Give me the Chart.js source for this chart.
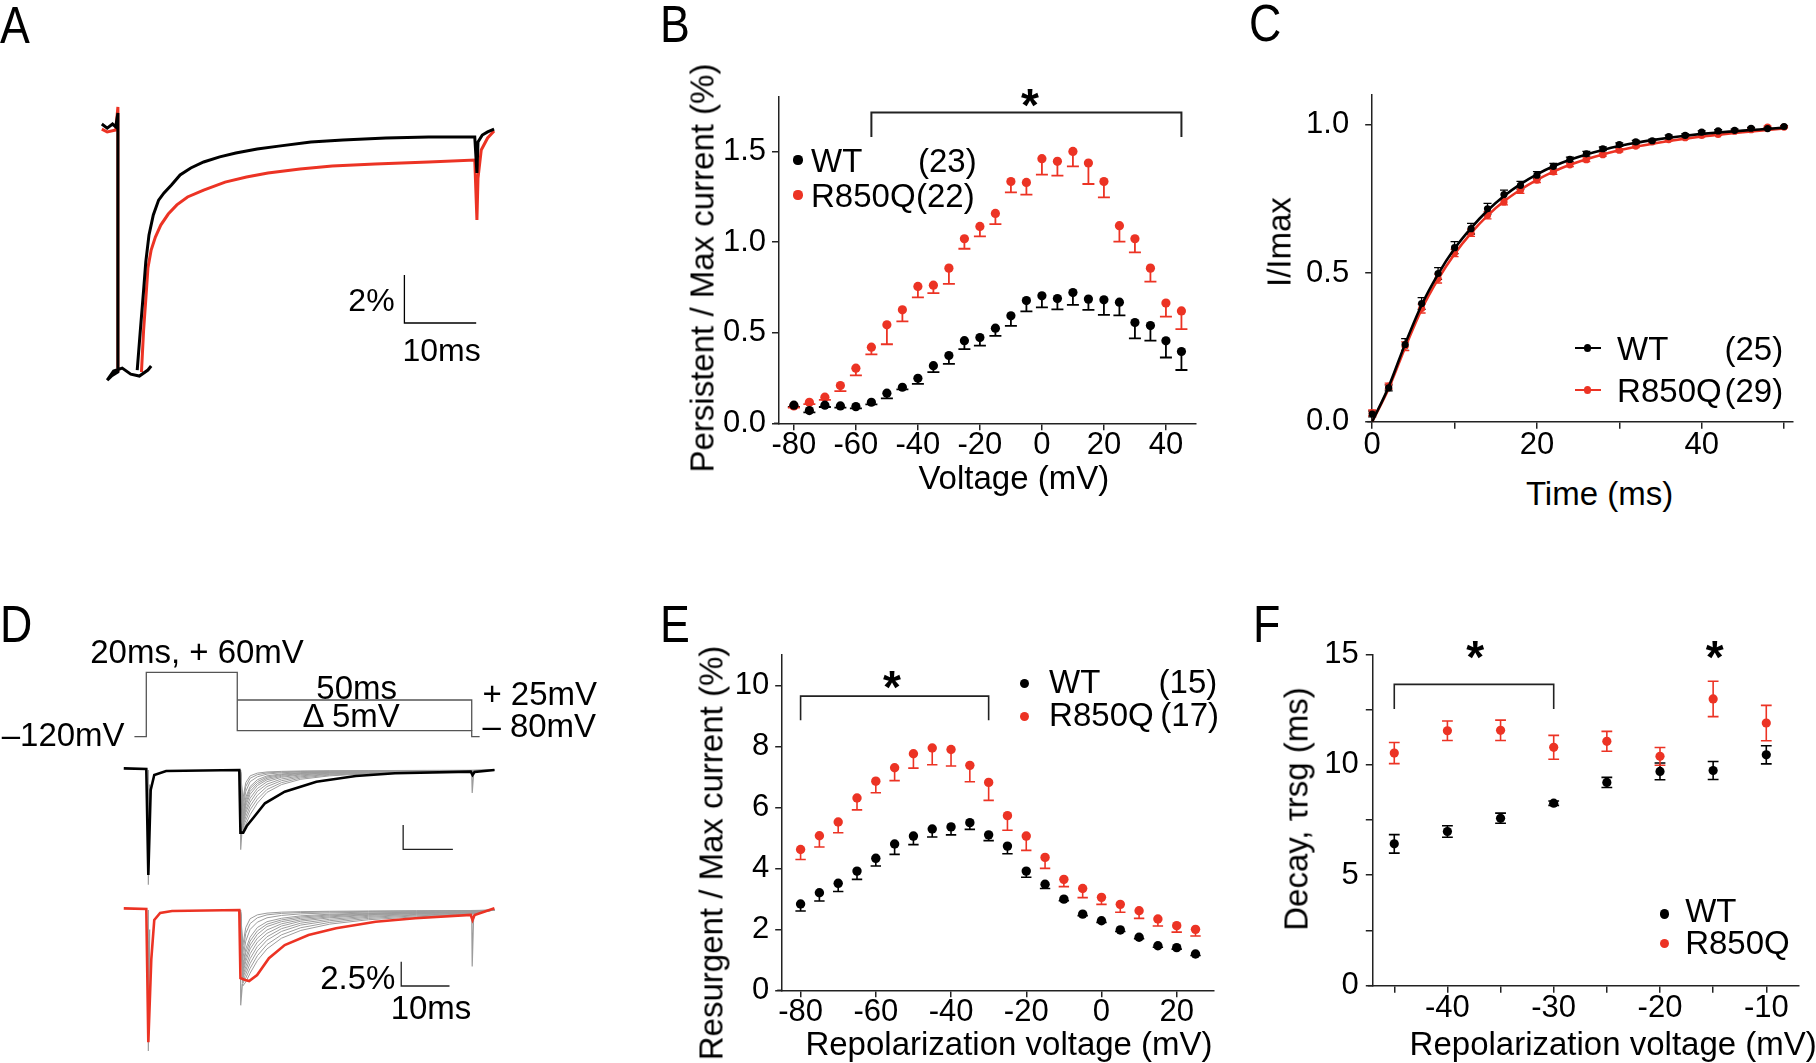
<!DOCTYPE html>
<html><head><meta charset="utf-8">
<script src="https://cdn.jsdelivr.net/npm/chart.js@4.4.0/dist/chart.umd.min.js"></script>
<style>
html,body{margin:0;padding:0;background:#fff;}
#fig{position:relative;width:1816px;height:1063px;overflow:hidden;background:#fff;font-family:'Liberation Sans',Arial,Helvetica,sans-serif;color:#000;}
#fig canvas{position:absolute;}
.t{position:absolute;white-space:nowrap;line-height:1;}
.dot{position:absolute;border-radius:50%;}
.ln{position:absolute;}
</style></head>
<body><div id="fig"></div>
<script>
// ---------------- DATA ----------------
// Panel B: persistent current
const bVolt = [-80,-75,-70,-65,-60,-55,-50,-45,-40,-35,-30,-25,-20,-15,-10,-5,0,5,10,15,20,25,30,35,40,45];
const bWT   = [0.10,0.07,0.10,0.096,0.092,0.116,0.166,0.199,0.248,0.318,0.374,0.456,0.473,0.525,0.593,0.677,0.703,0.688,0.721,0.685,0.681,0.668,0.556,0.539,0.455,0.396];
const bWTerr= [0.01,0.01,0.01,0.01,0.01,0.012,0.028,0.012,0.031,0.036,0.046,0.047,0.044,0.043,0.056,0.06,0.064,0.06,0.068,0.059,0.083,0.073,0.087,0.083,0.092,0.102];
const bR    = [0.096,0.116,0.144,0.208,0.304,0.420,0.543,0.626,0.755,0.762,0.856,1.018,1.086,1.158,1.334,1.329,1.460,1.445,1.500,1.436,1.334,1.090,1.018,0.856,0.663,0.620];
const bRerr = [0.01,0.01,0.015,0.03,0.04,0.04,0.107,0.064,0.06,0.044,0.087,0.055,0.055,0.059,0.06,0.068,0.088,0.079,0.083,0.116,0.088,0.088,0.075,0.075,0.075,0.101];
const bXTicks = [-80,-60,-40,-20,0,20,40];
const bXLabels = ['-80','-60','-40','-20','0','20','40'];
const bYTicks = [0,0.5,1.0,1.5];
const bYLabels = ['0.0','0.5','1.0','1.5'];

// Panel C: recovery from inactivation
const cTime = [0,2,4,6,8,10,12,14,16,18,20,22,24,26,28,30,32,34,36,38,40,42,44,46,48,50];
const cWT   = [0.026,0.114,0.260,0.398,0.499,0.586,0.650,0.717,0.765,0.796,0.830,0.860,0.883,0.902,0.919,0.933,0.942,0.946,0.960,0.964,0.975,0.979,0.981,0.988,0.987,0.994];
const cWTerr= [0.01,0.01,0.02,0.02,0.02,0.02,0.018,0.018,0.015,0.013,0.012,0.01,0.008,0.008,0.006,0.006,0.005,0.005,0.005,0.005,0.004,0.004,0.004,0.003,0.003,0.003];
const cR    = [0.030,0.120,0.254,0.381,0.482,0.568,0.636,0.695,0.740,0.779,0.813,0.841,0.865,0.882,0.899,0.914,0.928,0.942,0.950,0.956,0.964,0.967,0.978,0.983,0.992,0.992];
const cRerr = [0.01,0.01,0.015,0.015,0.015,0.012,0.012,0.012,0.01,0.01,0.008,0.008,0.006,0.006,0.005,0.005,0.005,0.004,0.004,0.004,0.004,0.003,0.003,0.003,0.003,0.003];
const cFitWT= [0.0,0.118,0.262,0.393,0.497,0.583,0.652,0.711,0.760,0.800,0.833,0.860,0.882,0.900,0.915,0.928,0.939,0.948,0.956,0.963,0.969,0.974,0.978,0.982,0.986,0.990];
const cFitR = [0.0,0.112,0.250,0.378,0.480,0.565,0.635,0.694,0.742,0.781,0.814,0.842,0.865,0.884,0.900,0.914,0.926,0.936,0.945,0.953,0.960,0.966,0.972,0.977,0.982,0.987];
const cXTicks = [0,10,20,30,40,50];
const cXLabels = ['0','','20','','40',''];
const cYTicks = [0,0.5,1.0];
const cYLabels = ['0.0','0.5','1.0'];

// Panel E: resurgent current
const eVolt = [-80,-75,-70,-65,-60,-55,-50,-45,-40,-35,-30,-25,-20,-15,-10,-5,0,5,10,15,20,25];
const eWT   = [2.83,3.20,3.51,3.91,4.33,4.80,5.06,5.29,5.36,5.50,5.10,4.73,3.91,3.48,2.99,2.50,2.28,1.98,1.74,1.46,1.40,1.19];
const eWTerr= [0.23,0.27,0.27,0.27,0.25,0.34,0.28,0.26,0.26,0.22,0.19,0.25,0.2,0.14,0.05,0.05,0.05,0.05,0.05,0.05,0.05,0.05];
const eR    = [4.62,5.07,5.52,6.31,6.86,7.30,7.76,7.95,7.90,7.38,6.82,5.73,5.06,4.36,3.64,3.34,3.05,2.82,2.61,2.34,2.12,2.00];
const eRerr = [0.33,0.37,0.35,0.39,0.38,0.42,0.47,0.55,0.54,0.54,0.59,0.48,0.47,0.36,0.24,0.30,0.23,0.26,0.25,0.23,0.21,0.22];
const eXTicks = [-80,-60,-40,-20,0,20];
const eXLabels = ['-80','-60','-40','-20','0','20'];
const eYTicks = [0,2,4,6,8,10];
const eYLabels = ['0','2','4','6','8','10'];

// Panel F: decay time constant
const fVolt = [-45,-40,-35,-30,-25,-20,-15,-10];
const fWT   = [6.42,6.98,7.58,8.26,9.20,9.70,9.74,10.45];
const fWTerr= [0.42,0.26,0.23,0.10,0.23,0.38,0.41,0.41];
const fR    = [10.53,11.54,11.56,10.79,11.06,10.38,12.98,11.89];
const fRerr = [0.48,0.44,0.46,0.54,0.45,0.40,0.80,0.80];
const fXTicks = [-45,-40,-35,-30,-25,-20,-15,-10];
const fXLabels = ['','-40','','-30','','-20','','-10'];
const fYTicks = [0,2.5,5,7.5,10,12.5,15];
const fYLabels = ['0','','5','','10','','15'];

// Panel A: example traces (time ms, current %)
const aBlackPreT = [-2.24,-1.49,-0.75,-0.30,0,0,-0.9,-1.49,-0.60,0.60,1.79,2.99,4.18,4.63];
const aBlackPreI = [0.04,-0.13,0.04,-0.08,0.5,-10.29,-10.46,-10.63,-10.25,-10.13,-10.38,-10.46,-10.21,-10.04];
const aBlackT = [2.69,3.13,3.58,3.88,4.33,4.93,5.67,6.42,7.46,8.66,10.15,11.94,14.18,16.42,19.40,22.39,26.87,31.34,37.31,43.28,49.70,50.0,50.15,50.75,51.49,52.39];
const aBlackI = [-10.21,-8.54,-6.88,-5.71,-4.58,-3.75,-3.13,-2.83,-2.50,-2.08,-1.79,-1.54,-1.33,-1.17,-1.00,-0.88,-0.71,-0.63,-0.54,-0.50,-0.50,-2.0,-0.71,-0.42,-0.29,-0.17];
const aRedPreT = [-2.24,-1.49,-0.30,0,0];
const aRedPreI = [-0.17,-0.29,-0.21,0.75,-10.29];
const aRedT = [3.28,3.58,3.88,4.18,4.63,5.22,5.97,7.01,8.21,9.70,11.94,14.93,17.91,20.90,25.37,29.85,35.82,43.28,49.70,50.0,50.15,50.60,51.49,52.39];
const aRedI = [-10.29,-8.54,-7.29,-5.96,-5.21,-4.67,-4.17,-3.71,-3.33,-3.00,-2.71,-2.38,-2.17,-2.00,-1.83,-1.71,-1.63,-1.54,-1.46,-3.96,-2.21,-1.04,-0.54,-0.25];
const aScaleT = [49.9,39.9,39.9];
const aScaleI = [-8.25,-8.25,-6.25];

// Panel D: protocol (time ms, schematic level) and traces (time ms, current %)
const dProtoT = [-2.46,0,0,18.84,18.84,67.4,67.4,69.04];
const dProtoL = [0,0,10,10,0.93,0.93,0,0];
const dProtoTopT = [18.84,67.4,67.4];
const dProtoTopL = [5.70,5.70,0.93];
const dBlackT = [-4.67,0,0.42,0.91,1.65,4.1,19.26,19.5,20.07,20.8,22.1,24.57,28.67,35.23,43.4,51.5,67.2,67.57,67.99,72.1];
const dBlackI = [0.17,0.1,-10.8,-2.06,-0.51,-0.1,0,-6.44,-6.44,-5.76,-4.96,-3.42,-2.23,-1.20,-0.62,-0.34,-0.17,-0.51,-0.21,0];
const dRedT = [-4.67,0,0.42,1.03,1.65,2.87,5.33,19.26,19.5,20.49,21.3,22.95,25.4,28.67,33.6,39.3,47.5,55.7,67.2,67.57,68.0,72.1];
const dRedI = [0.17,0.1,-13.6,-5.1,-1.03,-0.31,-0.1,0,-6.99,-7.19,-7.3,-6.68,-4.96,-3.6,-2.57,-1.88,-1.2,-0.85,-0.51,-1.03,-0.51,0.17];
const dGrayT = [19.5,20.0,20.6,21.5,23,25,28,32,38,46,56,67.2,72.1];
const dGrayTop = [
  [0,-6.2,-5.6,-4.6,-3.4,-2.3,-1.5,-0.95,-0.6,-0.38,-0.25,-0.15,0],
  [0,-6.0,-5.2,-4.1,-3.0,-2.0,-1.3,-0.82,-0.52,-0.34,-0.22,-0.13,0],
  [0,-5.8,-4.8,-3.7,-2.6,-1.7,-1.1,-0.7,-0.45,-0.3,-0.2,-0.12,0],
  [0,-5.6,-4.4,-3.3,-2.2,-1.45,-0.92,-0.6,-0.39,-0.26,-0.17,-0.11,0],
  [0,-5.4,-4.1,-2.9,-1.9,-1.2,-0.75,-0.5,-0.33,-0.22,-0.15,-0.1,0],
  [0,-5.2,-3.7,-2.5,-1.6,-1.0,-0.65,-0.43,-0.29,-0.2,-0.13,-0.09,0],
  [0,-5.0,-3.4,-2.2,-1.4,-0.85,-0.55,-0.36,-0.25,-0.17,-0.12,-0.08,0],
  [0,-4.7,-3.1,-1.9,-1.2,-0.72,-0.47,-0.31,-0.22,-0.15,-0.11,-0.07,0],
  [0,-4.5,-2.8,-1.7,-1.0,-0.6,-0.4,-0.27,-0.19,-0.13,-0.1,-0.06,0],
  [0,-4.0,-2.2,-1.2,-0.7,-0.42,-0.28,-0.2,-0.14,-0.1,-0.07,-0.05,0],
  [0,-3.5,-1.7,-0.85,-0.48,-0.3,-0.2,-0.15,-0.1,-0.08,-0.05,-0.04,0],
  [0,-3.0,-1.3,-0.6,-0.32,-0.2,-0.14,-0.1,-0.08,-0.06,-0.04,-0.03,0]
];
const dGrayBot = [
  [0,-7.8,-7.4,-6.5,-5.2,-4.0,-2.9,-2.1,-1.45,-1.0,-0.7,-0.45,0],
  [0,-7.5,-7.0,-6.0,-4.7,-3.55,-2.55,-1.82,-1.27,-0.87,-0.6,-0.4,0],
  [0,-7.3,-6.6,-5.5,-4.2,-3.1,-2.2,-1.55,-1.1,-0.75,-0.52,-0.35,0],
  [0,-7.0,-6.2,-5.0,-3.75,-2.75,-1.92,-1.35,-0.95,-0.65,-0.45,-0.3,0],
  [0,-6.8,-5.8,-4.5,-3.3,-2.4,-1.65,-1.15,-0.8,-0.55,-0.38,-0.26,0],
  [0,-6.5,-5.3,-4.0,-2.9,-2.05,-1.42,-1.0,-0.7,-0.48,-0.34,-0.23,0],
  [0,-6.2,-4.9,-3.6,-2.5,-1.7,-1.2,-0.85,-0.6,-0.42,-0.3,-0.2,0],
  [0,-5.9,-4.4,-3.2,-2.15,-1.45,-1.02,-0.72,-0.51,-0.37,-0.26,-0.17,0],
  [0,-5.6,-4.0,-2.8,-1.8,-1.2,-0.85,-0.6,-0.43,-0.31,-0.22,-0.15,0],
  [0,-5.0,-3.2,-2.0,-1.25,-0.8,-0.56,-0.4,-0.3,-0.22,-0.16,-0.11,0],
  [0,-4.3,-2.4,-1.4,-0.8,-0.5,-0.35,-0.26,-0.2,-0.15,-0.11,-0.08,0],
  [0,-3.6,-1.8,-0.9,-0.5,-0.32,-0.22,-0.17,-0.13,-0.1,-0.07,-0.05,0]
];
const dSpikeT = [0.42,0.42,0.7,null,19.5,19.55,19.9,null,67.4,67.5,67.8];
const dSpikeTopI = [0,-11.8,-1.5,null,0,-8.2,-5.5,null,-0.2,-2.36,-0.3];
const dSpikeBotI = [0,-14.5,-2.0,null,0,-9.8,-7.6,null,-0.3,-5.8,-0.5];
const dScaleTopT = [63.5,53.2,53.2];
const dScaleTopI = [-8.15,-8.15,-5.65];
const dScaleBotT = [62.8,52.8,52.8];
const dScaleBotI = [-7.81,-7.81,-5.31];

// significance brackets [x0, x1, yTop, yBottom]
const bBracket = [-55,45,1.715,1.58];
const eBracket = [-80,-30,9.65,8.86];
const fBracket = [-45,-30,13.64,12.52];

// ---------------- DRAWING ----------------
const RED = '#ec3324', BLK = '#000', AX = '#222', GRAY = '#9c9c9c';
const FONT = "'Liberation Sans', Arial, Helvetica, sans-serif";
Chart.defaults.font.family = FONT;
Chart.defaults.color = '#000';
const fig = document.getElementById('fig');

function P(xs, ys) { return xs.map((x, i) => (x === null ? {x: NaN, y: null} : {x: x, y: ys[i]})); }

Chart.register({
  id: 'errbars',
  beforeDatasetsDraw(chart) {
    const ctx = chart.ctx, ys = chart.scales.y;
    chart.data.datasets.forEach((ds, i) => {
      const e = ds.errLow || ds.errBoth; if (!e) return;
      const meta = chart.getDatasetMeta(i);
      ctx.save();
      ctx.strokeStyle = ds.errColor; ctx.lineWidth = ds.errWidth || 1.5;
      const cw = ds.capW || 6;
      meta.data.forEach((el, j) => {
        const v = ds.data[j].y, x = el.x;
        const y0 = ys.getPixelForValue(v);
        const yl = ys.getPixelForValue(v - e[j]);
        const yh = ds.errBoth ? ys.getPixelForValue(v + e[j]) : y0;
        ctx.beginPath();
        ctx.moveTo(x, yh); ctx.lineTo(x, yl);
        ctx.moveTo(x - cw, yl); ctx.lineTo(x + cw, yl);
        if (ds.errBoth) { ctx.moveTo(x - cw, yh); ctx.lineTo(x + cw, yh); }
        ctx.stroke();
      });
      ctx.restore();
    });
  }
});

// x axis line continues a few pixels left of the y axis (Prism style)
const axisStub = { id: 'stub', afterDraw(chart) {
  const ca = chart.chartArea, ctx = chart.ctx;
  ctx.save(); ctx.strokeStyle = AX; ctx.lineWidth = 1.5;
  ctx.beginPath(); ctx.moveTo(ca.left - 5, ca.bottom); ctx.lineTo(ca.left, ca.bottom); ctx.stroke();
  ctx.restore();
} };

function bracket(b, lw) {
  return { id: 'br', afterDatasetsDraw(chart) {
    const ctx = chart.ctx, xs = chart.scales.x, ys = chart.scales.y;
    const x0 = xs.getPixelForValue(b[0]), x1 = xs.getPixelForValue(b[1]);
    const yt = ys.getPixelForValue(b[2]), yb = ys.getPixelForValue(b[3]);
    ctx.save(); ctx.strokeStyle = AX; ctx.lineWidth = lw;
    ctx.beginPath(); ctx.moveTo(x0, yb); ctx.lineTo(x0, yt); ctx.lineTo(x1, yt); ctx.lineTo(x1, yb); ctx.stroke();
    ctx.restore();
  } };
}

function mk(L, T, W, H, cfg) {
  const c = document.createElement('canvas');
  c.width = W; c.height = H;
  c.style.left = L + 'px'; c.style.top = T + 'px'; c.style.width = W + 'px'; c.style.height = H + 'px';
  fig.appendChild(c);
  return new Chart(c.getContext('2d'), cfg);
}

function axis(min, max, tv, tl, fit, isX, pad, tlen) {
  return {
    type: 'linear', min: min, max: max,
    afterBuildTicks: s => { s.ticks = tv.map(v => ({value: v})); },
    afterFit: s => { if (isX) s.height = fit; else s.width = fit; },
    ticks: { autoSkip: false, maxRotation: 0, minRotation: 0, padding: pad, color: '#000',
             font: {size: 31, lineHeight: 1}, callback: (v, i) => tl[i] },
    grid: { display: true, drawOnChartArea: false, drawTicks: true, tickLength: tlen, color: AX, lineWidth: 1.5 },
    border: { display: true, color: AX, width: 1.5 }
  };
}
function hidden(min, max) { return { type: 'linear', min: min, max: max, display: false }; }

function opts(padT, padR, scales) {
  return { responsive: false, animation: false, devicePixelRatio: 1, events: [],
    layout: { padding: { left: 0, top: padT, right: padR, bottom: 0 } },
    plugins: { legend: { display: false }, tooltip: { enabled: false } },
    scales: scales };
}
function dots(data, r, col, extra) {
  return Object.assign({ data: data, showLine: false, pointRadius: r, pointHoverRadius: r,
    pointBackgroundColor: col, pointBorderWidth: 0, clip: false }, extra || {});
}
function line(data, col, w, extra) {
  return Object.assign({ data: data, showLine: true, borderColor: col, borderWidth: w, pointRadius: 0,
    pointHoverRadius: 0, fill: false, tension: 0, spanGaps: false, clip: false }, extra || {});
}

// ---- Panel A ----
mk(40, 90, 480, 310, { type: 'scatter',
  data: { datasets: [
    line(P(aBlackT, aBlackI), BLK, 3),
    line(P(aBlackPreT, aBlackPreI), BLK, 3),
    line(P(aRedT, aRedI), RED, 3),
    line(P(aRedPreT, aRedPreI), RED, 3),
    line(P(aScaleT, aScaleI), BLK, 1.3)
  ] },
  options: opts(0, 0, { x: hidden(-10.85, 56.0), y: hidden(-11.458, 1.458) })
});

// ---- Panel B ----
mk(690, 60, 540, 410, { type: 'scatter',
  data: { datasets: [
    dots(P(bVolt, bWT), 4.6, BLK, { errLow: bWTerr, errColor: BLK, errWidth: 1.8, capW: 6 }),
    dots(P(bVolt, bR), 4.6, RED, { errLow: bRerr, errColor: RED, errWidth: 1.8, capW: 6 })
  ] },
  options: opts(37, 34, { x: axis(-84.8, 49.7, bXTicks, bXLabels, 46.7, true, 0, 7),
                          y: axis(0, 1.8, bYTicks, bYLabels, 89, false, 6, 7) }),
  plugins: [bracket(bBracket, 2), axisStub]
});

// ---- Panel C ----
mk(1285, 60, 531, 410, { type: 'scatter',
  data: { datasets: [
    dots(P(cTime, cWT), 3.6, BLK, { errBoth: cWTerr, errColor: BLK, errWidth: 1.3, capW: 4 }),
    line(P(cTime, cFitWT), BLK, 2.6, { cubicInterpolationMode: 'monotone' }),
    dots(P(cTime, cR), 3.6, RED, { errBoth: cRerr, errColor: RED, errWidth: 1.3, capW: 4 }),
    line(P(cTime, cFitR), RED, 2.6, { cubicInterpolationMode: 'monotone' })
  ] },
  options: opts(35, 22.9, { x: axis(0, 51.1, cXTicks, cXLabels, 48.3, true, 1, 7),
                            y: axis(0, 1.1, cYTicks, cYLabels, 87.2, false, 16, 7) }),
  plugins: [axisStub]
});

// ---- Panel D ----
mk(100, 655, 420, 95, { type: 'scatter',
  data: { datasets: [
    line(P(dProtoT, dProtoL), '#555', 1.3),
    line(P(dProtoTopT, dProtoTopL), '#555', 1.3)
  ] },
  options: opts(0, 0, { x: hidden(-9.59, 77.4), y: hidden(-2.07, 12.69) })
});
mk(100, 755, 420, 140, { type: 'scatter',
  data: { datasets: [
    line(P(dBlackT, dBlackI), BLK, 2.6),
    line(P(dScaleTopT, dScaleTopI), '#222', 1.3),
    line(P(dSpikeT, dSpikeTopI), GRAY, 1.2)
  ].concat(dGrayTop.map(g => line(P(dGrayT, g), GRAY, 1))) },
  options: opts(0, 0, { x: hidden(-9.59, 77.4), y: hidden(-12.847, 1.542) })
});
mk(100, 895, 420, 168, { type: 'scatter',
  data: { datasets: [
    line(P(dRedT, dRedI), RED, 2.6),
    line(P(dScaleBotT, dScaleBotI), '#222', 1.3),
    line(P(dSpikeT, dSpikeBotI), GRAY, 1.2)
  ].concat(dGrayBot.map(g => line(P(dGrayT, g), GRAY, 1))) },
  options: opts(0, 0, { x: hidden(-9.59, 77.4), y: hidden(-15.725, 1.542) })
});

// ---- Panel E ----
mk(695, 620, 540, 443, { type: 'scatter',
  data: { datasets: [
    dots(P(eVolt, eWT), 4.7, BLK, { errLow: eWTerr, errColor: BLK, errWidth: 1.6, capW: 5.2 }),
    dots(P(eVolt, eR), 4.7, RED, { errLow: eRerr, errColor: RED, errWidth: 1.6, capW: 5.2 })
  ] },
  options: opts(35, 20.8, { x: axis(-84.89, 29.97, eXTicks, eXLabels, 72.7, true, 0, 7),
                            y: axis(0, 11, eYTicks, eYLabels, 87.2, false, 6, 7) }),
  plugins: [bracket(eBracket, 1.6), axisStub]
});

// ---- Panel F ----
mk(1285, 620, 531, 443, { type: 'scatter',
  data: { datasets: [
    dots(P(fVolt, fWT), 4.6, BLK, { errBoth: fWTerr, errColor: BLK, errWidth: 1.6, capW: 5.4 }),
    dots(P(fVolt, fR), 4.6, RED, { errBoth: fRerr, errColor: RED, errWidth: 1.6, capW: 5.4 })
  ] },
  options: opts(34.3, 17.3, { x: axis(-47.02, -6.95, fXTicks, fXLabels, 77.3, true, 0, 7),
                              y: axis(0, 15, fYTicks, fYLabels, 87.8, false, 7, 7) }),
  plugins: [bracket(fBracket, 1.6), axisStub]
});

// ---------------- TEXT ----------------
function txt(s, x, cy, size, align, extra) {
  const d = document.createElement('div'); d.className = 't'; d.textContent = s;
  d.style.fontSize = size + 'px';
  d.style.top = (cy - 0.49 * size) + 'px';
  d.style.left = x + 'px';
  if (align === 'right') d.style.transform = 'translateX(-100%)';
  else if (align === 'center') d.style.transform = 'translateX(-50%)';
  if (extra) Object.assign(d.style, extra);
  fig.appendChild(d); return d;
}
function rot(s, cx, cy, size) {
  const d = document.createElement('div'); d.className = 't'; d.textContent = s;
  d.style.fontSize = size + 'px'; d.style.left = cx + 'px'; d.style.top = cy + 'px';
  d.style.transform = 'translate(-50%,-50%) rotate(-90deg)';
  fig.appendChild(d); return d;
}
function letter(s, x, baseline) {
  const S = 52;
  const d = document.createElement('div'); d.className = 't'; d.textContent = s;
  d.style.fontSize = S + 'px'; d.style.left = x + 'px'; d.style.top = (baseline - 0.8465 * S) + 'px';
  d.style.transform = 'scaleX(0.86)'; d.style.transformOrigin = 'left top';
  fig.appendChild(d);
}
function star(cx, cy) {
  const S = 46;
  const d = document.createElement('div'); d.className = 't'; d.textContent = '*';
  d.style.fontSize = S + 'px'; d.style.fontWeight = 'bold';
  d.style.left = cx + 'px'; d.style.top = (cy - 0.2765 * S) + 'px'; d.style.transform = 'translateX(-50%)';
  fig.appendChild(d);
}
function dot(cx, cy, r, col) {
  const d = document.createElement('div'); d.className = 'dot';
  d.style.left = (cx - r) + 'px'; d.style.top = (cy - r) + 'px';
  d.style.width = (2 * r) + 'px'; d.style.height = (2 * r) + 'px'; d.style.background = col;
  fig.appendChild(d);
}
function hline(x0, x1, y, w, col) {
  const d = document.createElement('div'); d.className = 'ln';
  d.style.left = x0 + 'px'; d.style.top = (y - w / 2) + 'px';
  d.style.width = (x1 - x0) + 'px'; d.style.height = w + 'px'; d.style.background = col;
  fig.appendChild(d);
}

// panel letters
letter('A', 0, 43.3); letter('B', 660, 41.7); letter('C', 1249, 41);
letter('D', 0, 641.7); letter('E', 660, 641.7); letter('F', 1253, 641.7);

// A
txt('2%', 394.6, 300, 32, 'right');
txt('10ms', 441.6, 350, 32, 'center');

// B
rot('Persistent / Max current (%)', 702, 268, 33);
txt('Voltage (mV)', 1013.8, 477, 33, 'center');
dot(798, 160, 4.6, BLK); dot(798, 195, 4.6, RED);
txt('WT', 811, 160, 33, 'left'); txt('(23)', 918, 160, 33, 'left');
txt('R850Q', 811, 195, 33, 'left'); txt('(22)', 916, 195, 33, 'left');
star(1030, 95);

// C
rot('I/Imax', 1279, 242.3, 33);
txt('Time (ms)', 1599.5, 493.3, 33, 'center');
hline(1574.7, 1601.2, 348, 2.6, BLK); dot(1587.8, 348, 3.6, BLK);
hline(1574.7, 1601.2, 390, 2.6, RED); dot(1587.8, 390, 3.6, RED);
txt('WT', 1617.1, 348, 33, 'left'); txt('(25)', 1783.2, 348, 33, 'right');
txt('R850Q', 1617.1, 390, 33, 'left'); txt('(29)', 1783.2, 390, 33, 'right');

// D
txt('20ms, + 60mV', 90.2, 650.8, 33, 'left');
txt('50ms', 316.3, 686.7, 33, 'left');
txt('\u0394 5mV', 302.5, 715, 33, 'left');
txt('+ 25mV', 482.4, 693.3, 33, 'left');
txt('\u2013 80mV', 482.4, 725, 33, 'left');
txt('\u2013120mV', 124.6, 734, 33, 'right');
txt('2.5%', 395.4, 976.7, 33, 'right');
txt('10ms', 431, 1006.7, 33, 'center');

// E
rot('Resurgent / Max current (%)', 711, 853.3, 33);
txt('Repolarization voltage (mV)', 1009, 1043.3, 33, 'center');
dot(1024.8, 683.3, 4.7, BLK); dot(1024.8, 716.7, 4.7, RED);
txt('WT', 1049.1, 680.7, 33, 'left'); txt('(15)', 1158.6, 680.7, 33, 'left');
txt('R850Q', 1049.1, 714, 33, 'left'); txt('(17)', 1160.3, 714, 33, 'left');
star(891.9, 676.7);

// F
rot('Decay, \u03C4rsg (ms)', 1296, 809.2, 33);
txt('Repolarization voltage (mV)', 1409.6, 1043.3, 33, 'left');
dot(1664.7, 914, 4.6, BLK); dot(1664.7, 943.3, 4.6, RED);
txt('WT', 1685.2, 910, 33, 'left');
txt('R850Q', 1685.2, 941.7, 33, 'left');
star(1475.1, 646.7); star(1714.8, 646.7);
</script></body></html>
